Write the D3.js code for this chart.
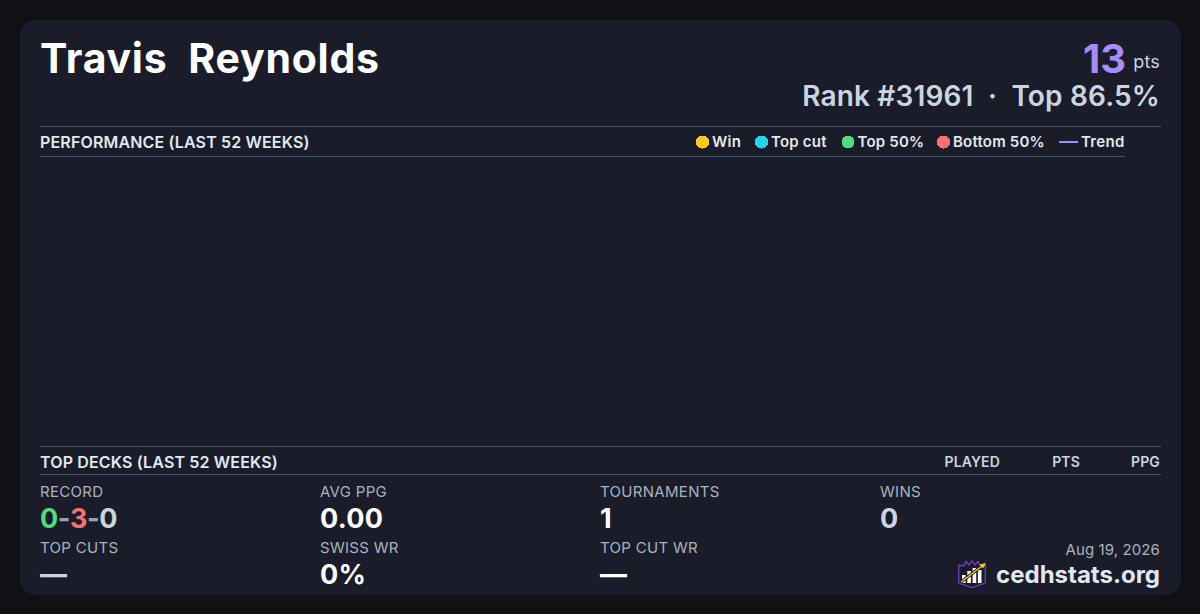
<!DOCTYPE html>
<html>
<head>
<meta charset="utf-8">
<style>
  html, body { margin: 0; padding: 0; background: #0f1115; }
  svg { display: block; }
  text { font-family: Inter, sans-serif; white-space: pre; }
</style>
</head>
<body>
<div id="card"></div>
<script src="https://cdn.jsdelivr.net/npm/d3@7"></script>
<script>
// Player card data
const playerName = 'Travis  Reynolds';
const points = '13';
const rankLine = 'Rank #31961  ·  Top 86.5%';
const cardDate = 'Aug 19, 2026';
const siteName = 'cedhstats.org';

const legendLabels = ['Win', 'Top cut', 'Top 50%', 'Bottom 50%'];
const legendColors = ['#facc15', '#22d3ee', '#4ade80', '#f87171'];
const legendDotX = [702.5, 761.5, 848, 943.5];

const deckColumns = ['PLAYED', 'PTS', 'PPG'];
const deckColumnX = [1000, 1080, 1160];

const statLabels = ['RECORD', 'AVG PPG', 'TOURNAMENTS', 'WINS', 'TOP CUTS', 'SWISS WR', 'TOP CUT WR'];
const statValues = [null, '0.00', '1', '0', '—', '0%', '—'];
const statColors = [null, '#ffffff', '#ffffff', '#cbd5e1', '#cbd5e1', '#ffffff', '#ffffff'];
const recordParts = ['0', '-', '3', '-', '0'];
const recordColors = ['#4ade80', '#94a3b8', '#f87171', '#94a3b8', '#cbd5e1'];

// Logo bar heights
const logoBars = [8, 12, 15, 13];

// Performance chart has no rows for this player
const weeklyResults = [];

const width = 1200, height = 614;

const svg = d3.select('#card').append('svg')
  .attr('width', width)
  .attr('height', height)
  .attr('viewBox', `0 0 ${width} ${height}`);

svg.append('rect').attr('width', width).attr('height', height).attr('fill', '#0f1115');
svg.append('rect')
  .attr('x', 20).attr('y', 20)
  .attr('width', 1161).attr('height', 575)
  .attr('rx', 16).attr('ry', 16)
  .attr('fill', '#1a1d29');

function label(x, y, str, size, weight, color, anchor = 'start', spacing = 0) {
  return svg.append('text')
    .attr('x', x).attr('y', y)
    .attr('font-size', size + 'px')
    .attr('font-weight', weight)
    .attr('fill', color)
    .attr('text-anchor', anchor)
    .attr('letter-spacing', spacing)
    .text(str);
}

function rule(x1, x2, y) {
  svg.append('line')
    .attr('x1', x1).attr('x2', x2)
    .attr('y1', y + 0.5).attr('y2', y + 0.5)
    .attr('stroke', '#475569').attr('stroke-width', 1);
}

// Header
label(40, 73, playerName, 41, 700, '#ffffff', 'start', 0.75);
label(1160, 68, 'pts', 18, 400, '#cbd5e1', 'end', 0.2);
label(1126, 73, points, 40, 700, '#a78bfa', 'end');
label(1160, 106, rankLine, 28, 600, '#cbd5e1', 'end', 0.15);

// Performance section
rule(40, 1161, 126);
rule(40, 1125, 156);
label(40, 148, 'PERFORMANCE (LAST 52 WEEKS)', 16, 600, '#e2e8f0', 'start', 0.15);

const legend = svg.append('g').selectAll('g')
  .data(legendLabels)
  .enter().append('g')
  .attr('transform', (d, i) => `translate(${legendDotX[i]}, 142)`);
legend.append('circle')
  .attr('r', 6.5)
  .attr('shape-rendering', 'crispEdges')
  .attr('fill', (d, i) => legendColors[i]);
legend.append('text')
  .attr('x', 9.5).attr('y', 5)
  .attr('font-size', '15px').attr('font-weight', 600)
  .attr('letter-spacing', 0.2)
  .attr('fill', '#e2e8f0')
  .text(d => d);

svg.append('line')
  .attr('x1', 1059).attr('x2', 1078)
  .attr('y1', 142).attr('y2', 142)
  .attr('stroke', '#a78bfa').attr('stroke-width', 2);
label(1081, 147, 'Trend', 15, 600, '#e2e8f0', 'start', 0.3);

// Top decks section
rule(40, 1161, 446);
rule(40, 1161, 474);
label(40, 468, 'TOP DECKS (LAST 52 WEEKS)', 16, 600, '#e2e8f0', 'start', 0.15);
deckColumns.forEach((c, i) => label(deckColumnX[i], 467, c, 14, 600, '#cbd5e1', 'end', 0.15));

// Stats grid
const statX = d3.scalePoint().domain([0, 1, 2, 3]).range([40, 880]);
statLabels.forEach((s, i) => {
  const x = statX(i % 4);
  const row = i < 4 ? 0 : 1;
  label(x, row ? 553 : 497, s, 15, 400, '#aab2c0', 'start', 0.3);
  if (statValues[i] !== null) {
    label(x, row ? 584 : 528, statValues[i], 27, 700, statColors[i], 'start', 0.3);
  }
});

const record = label(40, 528, '', 27, 700, '#ffffff', 'start', -0.4);
record.selectAll('tspan')
  .data(recordParts)
  .enter().append('tspan')
  .attr('fill', (d, i) => recordColors[i])
  .text(d => d);

// Footer
label(1160, 555, cardDate, 15, 400, '#aab2c0', 'end', 0.1);
label(1160, 583, siteName, 24, 700, '#e2e8f0', 'end');

// Logo
const logo = svg.append('g').attr('transform', 'translate(958, 560)');
logo.append('path')
  .attr('d', 'M0.7 5.5 L6 5.5 L8 1.5 L11 5 L14 0.8 L17 5 L20 1.5 L22 5.5 L27.3 5.5 L27.3 23 L14 27.5 L0.7 23 Z')
  .attr('fill', '#1a1d29').attr('stroke', '#6d3fc4').attr('stroke-width', 1.3);
logo.selectAll('.bar')
  .data(logoBars)
  .enter().append('rect')
  .attr('class', 'bar')
  .attr('x', (d, i) => 4 + i * 5.3)
  .attr('y', d => 23 - d)
  .attr('width', 3.6)
  .attr('height', d => d)
  .attr('fill', '#ffffff');
logo.append('line')
  .attr('x1', 3).attr('y1', 22).attr('x2', 24).attr('y2', 6)
  .attr('stroke', '#1a1d29').attr('stroke-width', 3);
logo.append('line')
  .attr('x1', 3).attr('y1', 22).attr('x2', 24).attr('y2', 6)
  .attr('stroke', '#facc15').attr('stroke-width', 1.4);
logo.append('path').attr('d', 'M28 3 L21.5 4.5 L25 8.5 Z').attr('fill', '#facc15');
</script>
</body>
</html>
